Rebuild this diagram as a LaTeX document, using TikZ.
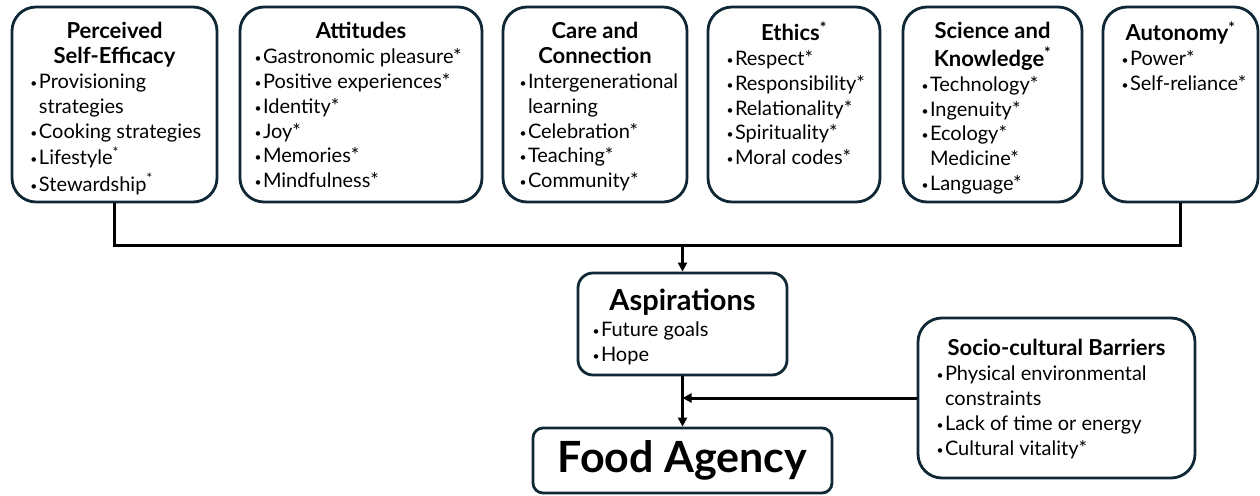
\documentclass[tikz,border=0pt]{standalone}
\usepackage{fontspec}
\setmainfont{Lato}
\usepackage{graphicx}
\usetikzlibrary{arrows.meta}

\definecolor{boxline}{RGB}{16,40,54}

% box body: width, height, top gap, lines
\newcommand{\boxtext}[4]{\parbox[t][#2][t]{#1}{\fontsize{20pt}{24.8pt}\selectfont\raggedright\vspace*{#3}#4}}
\newcommand{\ttl}[1]{{\centering\bfseries\fontsize{22pt}{24.8pt}\selectfont\strut #1\par}}
\newcommand{\bul}{\makebox[9pt][l]{\hspace{0.5pt}\raisebox{1pt}{\scalebox{0.6}{•}}}}
\newcommand{\itm}[1]{\noindent\strut\bul\mbox{#1}\par}
\newcommand{\cnt}[1]{\noindent\strut\hspace*{9pt}\mbox{#1}\par}
\newcommand{\sast}{\textsuperscript{*}}

\begin{document}
\begin{tikzpicture}[
  x=1pt, y=-1pt,
  every node/.style={inner ysep=0pt, text=black},
  topbox/.style={draw=boxline, line width=2.8pt, rounded corners=24pt},
  aspbox/.style={draw=boxline, line width=2.8pt, rounded corners=15pt},
  foodbox/.style={draw=boxline, line width=2.8pt, rounded corners=10pt},
  link/.style={draw, line width=3pt},
  arr/.style={link, -{Triangle[length=9pt,width=9pt]}}
]
\useasboundingbox (0,0) rectangle (1260,495);

% top row of factors
\node[topbox, inner xsep=18pt] (pse) at (114.5,104.5) {\boxtext{169pt}{195pt}{14.5pt}{%
  \ttl{Perceived\\Self-Efficacy}
  \itm{Provisioning}
  \cnt{strategies}
  \itm{Cooking strategies}
  \itm{Lifestyle\sast}
  \itm{Stewardship\sast}}};
\node[topbox, inner xsep=14pt] (att) at (361,104.5) {\boxtext{214pt}{195pt}{14.5pt}{%
  \ttl{Attitudes}
  \itm{Gastronomic pleasure*}
  \itm{Positive experiences*}
  \itm{Identity*}
  \itm{Joy*}
  \itm{Memories*}
  \itm{Mindfulness*}}};
\node[topbox, inner xsep=16pt] (care) at (595,104.5) {\boxtext{152pt}{195pt}{14.5pt}{%
  \ttl{Care and\\Connection}
  \itm{Intergenerational}
  \cnt{learning}
  \itm{Celebration*}
  \itm{Teaching*}
  \itm{Community*}}};
\node[topbox, inner xsep=18pt] (eth) at (794,104.5) {\boxtext{136pt}{195pt}{14.5pt}{%
  \ttl{Ethics\sast}
  \itm{Respect*}
  \itm{Responsibility*}
  \itm{Relationality*}
  \itm{Spirituality*}
  \itm{Moral codes*}}};
\node[topbox, inner xsep=18pt] (sci) at (992.5,104.5) {\boxtext{143pt}{195pt}{14.5pt}{%
  \ttl{Science and\\Knowledge\sast}
  \itm{Technology*}
  \itm{Ingenuity*}
  \itm{Ecology*}
  \cnt{Medicine*}
  \itm{Language*}}};
\node[topbox, inner xsep=18pt] (aut) at (1180.5,104.5) {\boxtext{119pt}{195pt}{14.5pt}{%
  \ttl{Autonomy\sast}
  \itm{Power*}
  \itm{Self-reliance*}}};

% middle and bottom
\node[aspbox, inner xsep=14pt] (asp) at (682.5,324) {\boxtext{181pt}{102pt}{0pt}{%
  {\centering\bfseries\fontsize{29pt}{30pt}\selectfont\rule{0pt}{37pt}Aspirations\par}
  \vspace*{1.5pt}
  \itm{Future goals}
  \itm{Hope}}};
\node[topbox, inner xsep=18pt] (soc) at (1056.5,398) {\boxtext{241pt}{160pt}{0pt}{%
  {\centering\bfseries\fontsize{22pt}{24.8pt}\selectfont\rule{0pt}{37pt}Socio-cultural Barriers\par}
  \vspace*{1pt}
  \itm{Physical environmental}
  \cnt{constraints}
  \itm{Lack of time or energy}
  \itm{Cultural vitality*}}};
\node[foodbox, minimum width=299pt, minimum height=65pt, font=\bfseries\fontsize{43pt}{48pt}\selectfont] (food) at (682.5,460.5) {Food Agency};

% connectors
\coordinate (bus) at (682.5,245);
\draw[link] (pse.south) |- (bus) -| (aut.south);
\draw[arr] (bus) -- (asp.north);
\draw[arr] (asp.south) -- (food.north);
\draw[arr] (soc.west) -- (soc.west -| asp.south);
\end{tikzpicture}
\end{document}
